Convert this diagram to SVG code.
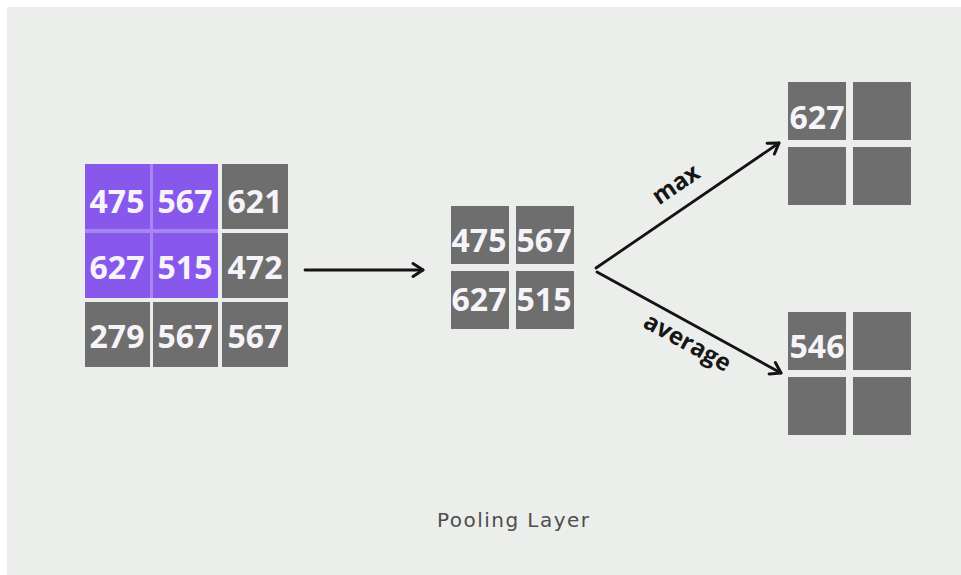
<svg xmlns="http://www.w3.org/2000/svg" width="961" height="575" viewBox="0 0 961 575">
  <defs>
    <style>
      .cell { fill: #6e6e6e; }
      .hot { fill: #8858ec; }
      .num { font-family: "Open Sans", "Liberation Sans", sans-serif; font-weight: 700; font-size: 32px; fill: #f6f4f8; text-anchor: middle; }
      .lbl { font-family: "Open Sans", "Liberation Sans", sans-serif; font-weight: 700; font-size: 24px; fill: #161616; text-anchor: middle; }
      .title { font-family: "DejaVu Sans", "Open Sans", sans-serif; font-size: 20px; fill: #4d4d4d; text-anchor: middle; }
      .wire { fill: none; stroke: #141414; stroke-width: 2.8; stroke-linecap: round; }
    </style>
    <marker id="chev" markerUnits="userSpaceOnUse" viewBox="-13 -9 16 18" markerWidth="16" markerHeight="18" refX="0" refY="0" orient="auto">
      <path d="M-10,-6.5 L0,0 L-10,6.5" fill="none" stroke="#141414" stroke-width="3" stroke-linecap="round" stroke-linejoin="round"/>
    </marker>
  </defs>

  <!-- page -->
  <rect x="0" y="0" width="961" height="575" fill="#ffffff"/>
  <rect x="7" y="7" width="954" height="568" fill="#eceeeb"/>

  <!-- 3x3 input feature map, top-left 2x2 window highlighted -->
  <g id="input-map">
    <rect x="85" y="164" width="133" height="134" fill="#a586f2"/>
    <rect class="hot" x="85" y="164" width="65" height="65"/>
    <rect class="hot" x="153" y="164" width="65" height="65"/>
    <rect class="cell" x="222" y="164" width="66" height="65"/>
    <rect class="hot" x="85" y="233" width="65" height="65"/>
    <rect class="hot" x="153" y="233" width="65" height="65"/>
    <rect class="cell" x="222" y="233" width="66" height="65"/>
    <rect class="cell" x="85" y="302" width="65" height="65"/>
    <rect class="cell" x="153" y="302" width="65" height="65"/>
    <rect class="cell" x="222" y="302" width="66" height="65"/>
    <text class="num" x="117" y="213">475</text>
    <text class="num" x="185" y="213">567</text>
    <text class="num" x="255" y="213">621</text>
    <text class="num" x="117" y="279">627</text>
    <text class="num" x="185" y="279">515</text>
    <text class="num" x="255" y="279">472</text>
    <text class="num" x="117" y="348">279</text>
    <text class="num" x="185" y="348">567</text>
    <text class="num" x="255" y="348">567</text>
  </g>

  <!-- extracted 2x2 window -->
  <g id="window">
    <rect class="cell" x="451" y="206" width="58" height="58"/>
    <rect class="cell" x="516" y="206" width="58" height="58"/>
    <rect class="cell" x="451" y="271" width="58" height="58"/>
    <rect class="cell" x="516" y="271" width="58" height="58"/>
    <text class="num" x="479" y="252">475</text>
    <text class="num" x="544" y="252">567</text>
    <text class="num" x="479" y="311">627</text>
    <text class="num" x="544" y="311">515</text>
  </g>

  <!-- max pooling output -->
  <g id="max-output">
    <rect class="cell" x="788" y="82" width="58" height="58"/>
    <rect class="cell" x="853" y="82" width="58" height="58"/>
    <rect class="cell" x="788" y="147" width="58" height="58"/>
    <rect class="cell" x="853" y="147" width="58" height="58"/>
    <text class="num" x="817" y="129">627</text>
  </g>

  <!-- average pooling output -->
  <g id="avg-output">
    <rect class="cell" x="788" y="312" width="58" height="58"/>
    <rect class="cell" x="853" y="312" width="58" height="58"/>
    <rect class="cell" x="788" y="377" width="58" height="58"/>
    <rect class="cell" x="853" y="377" width="58" height="58"/>
    <text class="num" x="817" y="358">546</text>
  </g>

  <!-- connectors -->
  <g id="connectors">
    <path class="wire" d="M305,270 L423,270" marker-end="url(#chev)"/>
    <path class="wire" d="M596,268 L779,143" marker-end="url(#chev)"/>
    <path class="wire" d="M597,272 L781,373" marker-end="url(#chev)"/>
    <text class="lbl" transform="translate(677,186) rotate(-34.3)" x="0" y="6">max</text>
    <text class="lbl" transform="translate(686,345) rotate(28.8)" x="0" y="5">average</text>
  </g>

  <text class="title" x="513" y="527" textLength="152" lengthAdjust="spacing">Pooling Layer</text>
</svg>
